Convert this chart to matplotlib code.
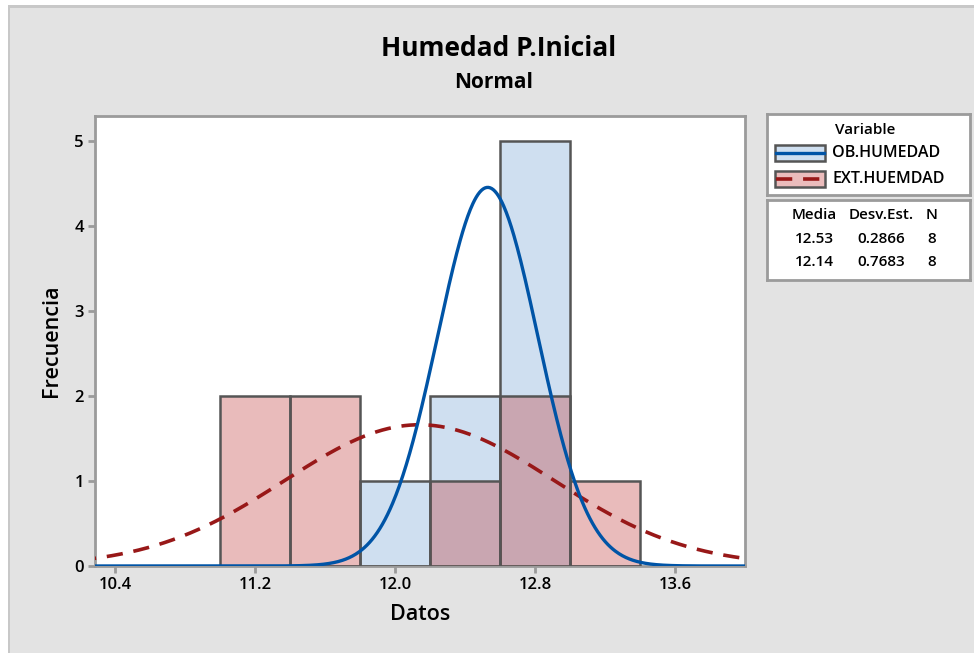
import numpy as np
import matplotlib.pyplot as plt
from matplotlib.patches import Rectangle

plt.rcParams['font.family'] = ['Open Sans', 'DejaVu Sans']

# Histogram data (bin centres, counts)
bin_centers = [11.2, 11.6, 12.0, 12.4, 12.8, 13.2]
bin_width = 0.4
ob_counts = [0, 0, 1, 2, 5, 0]
ext_counts = [2, 2, 0, 1, 2, 1]

series_names = ['OB.HUMEDAD', 'EXT.HUEMDAD']
means = [12.53, 12.14]
stdevs = [0.2866, 0.7683]
n_obs = [8, 8]

x_ticks = [10.4, 11.2, 12.0, 12.8, 13.6]
y_ticks = [0, 1, 2, 3, 4, 5]

blue_fill = '#cfdff0'
pink_fill = (0.75, 0.2, 0.2, 0.33)
blue_line = '#0054a6'
red_line = '#981818'
edge = '#555555'
frame = '#9b9b9b'
bg = '#e3e3e3'

fig = plt.figure(figsize=(9.74, 6.53), dpi=100, facecolor=bg)
# outer frame (top/left visible)
fig.patches.append(Rectangle((0, 0), 1, 1, transform=fig.transFigure,
                             facecolor='white', edgecolor='none', zorder=-3))
fig.patches.append(Rectangle((8 / 974, -0.1), 1.2, 1 - 5 / 653 + 0.1, transform=fig.transFigure,
                             facecolor='#c8c8c8', edgecolor='none', zorder=-2))
fig.patches.append(Rectangle((10 / 974, -0.1), 1.2, 1 - 8 / 653 + 0.1, transform=fig.transFigure,
                             facecolor=bg, edgecolor='none', zorder=-1))

ax = fig.add_axes([95 / 974, 1 - 566 / 653, 650 / 974, 450 / 653])
ax.set_facecolor('white')

ax.bar(bin_centers, ob_counts, width=bin_width, color=blue_fill, edgecolor=edge, linewidth=1.8, zorder=2)
ax.bar(bin_centers, ext_counts, width=bin_width, color=pink_fill, edgecolor=edge, linewidth=1.8, zorder=3)

xs = np.linspace(10.2, 14.1, 800)
scale = [n * bin_width for n in n_obs]
pdf_ob = scale[0] * np.exp(-0.5 * ((xs - means[0]) / stdevs[0]) ** 2) / (stdevs[0] * np.sqrt(2 * np.pi))
pdf_ext = scale[1] * np.exp(-0.5 * ((xs - means[1]) / stdevs[1]) ** 2) / (stdevs[1] * np.sqrt(2 * np.pi))
ax.plot(xs, pdf_ob, color=blue_line, lw=2.4, zorder=5)
ax.plot(xs, pdf_ext, color=red_line, lw=2.6, dashes=(4.5, 3), zorder=4)

ax.set_xlim(10.286, 14.0)
ax.set_ylim(0, 5.294)
ax.set_xticks(x_ticks)
ax.set_xticklabels([f'{t:.1f}' for t in x_ticks])
ax.set_yticks(y_ticks)

for s in ax.spines.values():
    s.set_color(frame)
    s.set_linewidth(2)
ax.tick_params(length=5, width=2, color=frame, labelsize=12, pad=3)
for lab in ax.get_xticklabels() + ax.get_yticklabels():
    lab.set_fontweight('semibold')

ax.set_xlabel('Datos', fontsize=15.5, fontweight='semibold', labelpad=8)
ax.set_ylabel('Frecuencia', fontsize=15.5, fontweight='semibold', labelpad=9)

fig.text(499 / 974, 1 - 48 / 653, 'Humedad P.Inicial', ha='center', va='center', fontsize=19, fontweight='bold')
fig.text(494 / 974, 1 - 83 / 653, 'Normal', ha='center', va='center', fontsize=15, fontweight='bold')

# legend box
lg = fig.add_axes([767 / 974, 1 - 195 / 653, 203 / 974, 81 / 653])
lg.set_xlim(0, 203)
lg.set_ylim(81, 0)
lg.set_xticks([])
lg.set_yticks([])
for s in lg.spines.values():
    s.set_color(frame)
    s.set_linewidth(2)
lg.text(98, 16, 'Variable', ha='center', va='center', fontsize=11, fontweight='semibold')
fills = [blue_fill, '#ebbcbc']
lines = [dict(color=blue_line, lw=2.4), dict(color=red_line, lw=2.6, dashes=(4.5, 3))]
for i, name in enumerate(series_names):
    yc = 39 + i * 26
    lg.add_patch(Rectangle((8, yc - 8), 50, 16, facecolor=fills[i], edgecolor=edge, linewidth=1.8))
    lg.plot([9, 57], [yc, yc], **lines[i])
    lg.text(65, yc, name, ha='left', va='center', fontsize=11.5, fontweight='semibold')

# statistics box
st = fig.add_axes([767 / 974, 1 - 280 / 653, 203 / 974, 80 / 653])
st.set_xlim(0, 203)
st.set_ylim(80, 0)
st.set_xticks([])
st.set_yticks([])
for s in st.spines.values():
    s.set_color(frame)
    s.set_linewidth(2)
st.text(47, 15, 'Media', ha='center', va='center', fontsize=11, fontweight='semibold')
st.text(114, 15, 'Desv.Est.', ha='center', va='center', fontsize=11, fontweight='semibold')
st.text(165, 15, 'N', ha='center', va='center', fontsize=11, fontweight='semibold')
for i in range(len(series_names)):
    yc = 39 + i * 23
    st.text(47, yc, f'{means[i]:.2f}', ha='center', va='center', fontsize=11, fontweight='semibold')
    st.text(114, yc, f'{stdevs[i]:.4f}', ha='center', va='center', fontsize=11, fontweight='semibold')
    st.text(165, yc, f'{n_obs[i]}', ha='center', va='center', fontsize=11, fontweight='semibold')

fig.savefig('out.png', dpi=100, facecolor=fig.get_facecolor())
